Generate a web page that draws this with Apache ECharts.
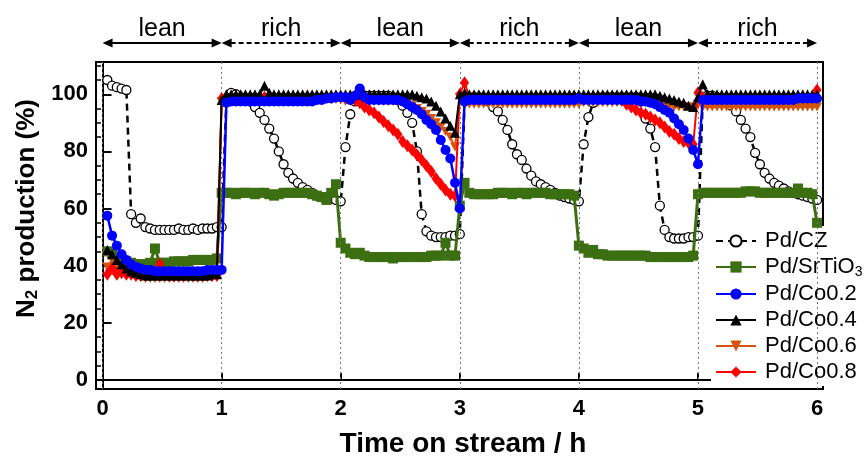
<!DOCTYPE html>
<html>
<head>
<meta charset="utf-8">
<script src="https://cdn.jsdelivr.net/npm/echarts@6/dist/echarts.min.js"></script>
<style>
  html, body { margin: 0; padding: 0; background: #fff; }
  #chart { width: 864px; height: 464px; }
</style>
</head>
<body>
<div id="chart"></div>
<script>
// Sampling times (h), one reading every 0.04 h
const hours = [
  0.04,0.08,0.12,0.16,0.2,0.24,0.28,0.32,0.36,0.4,0.44,0.48,0.52,0.56,0.6,0.64,0.68,0.72,0.76,0.8,0.84,0.88,0.92,0.96,1,
  1.04,1.08,1.12,1.16,1.2,1.24,1.28,1.32,1.36,1.4,1.44,1.48,1.52,1.56,1.6,1.64,1.68,1.72,1.76,1.8,1.84,1.88,1.92,1.96,2,
  2.04,2.08,2.12,2.16,2.2,2.24,2.28,2.32,2.36,2.4,2.44,2.48,2.52,2.56,2.6,2.64,2.68,2.72,2.76,2.8,2.84,2.88,2.92,2.96,3,
  3.04,3.08,3.12,3.16,3.2,3.24,3.28,3.32,3.36,3.4,3.44,3.48,3.52,3.56,3.6,3.64,3.68,3.72,3.76,3.8,3.84,3.88,3.92,3.96,4,
  4.04,4.08,4.12,4.16,4.2,4.24,4.28,4.32,4.36,4.4,4.44,4.48,4.52,4.56,4.6,4.64,4.68,4.72,4.76,4.8,4.84,4.88,4.92,4.96,5,
  5.04,5.08,5.12,5.16,5.2,5.24,5.28,5.32,5.36,5.4,5.44,5.48,5.52,5.56,5.6,5.64,5.68,5.72,5.76,5.8,5.84,5.88,5.92,5.96,6
];

// Lean / rich switching periods
const phaseLabels = ['lean', 'rich', 'lean', 'rich', 'lean', 'rich'];
const phaseStarts = [0, 1, 2, 3, 4, 5];

// Axis ticks
const xTicks = [0, 1, 2, 3, 4, 5, 6];
const yTicks = [0, 20, 40, 60, 80, 100];
const yMinorTicks = [5, 10, 15, 25, 30, 35, 45, 50, 55, 65, 70, 75, 85, 90, 95, 105, 110];

// N2 production (%) per catalyst
const pdCZ = [
  105,103,102.5,102,101.5,58,55,56.5,53.5,53,52.5,52.5,52.5,52.5,52.5,53,52.5,52.5,53,52.5,53,53,53,53.5,53.5,
  98,100.5,100,99,98.5,97.5,95.5,93.5,91,88,84.5,80,75.5,72.5,70.5,69,67.5,66.5,65.5,64.5,64,63.8,63.5,63,62.5,
  81.5,93,97.5,99,99.5,99.5,99.5,99.5,99.5,99.5,99,98,96,93.5,90,80,58,52,50.5,50,50,50,50.5,50.5,51,
  97.5,99,99,99,98.5,97.5,95.5,94,91,87.5,82.5,79,77,74,71.5,69.5,68.5,67.5,66.5,65.5,64.5,64,63.5,63,62.5,
  82.5,92,97,98.5,99,99,99,99,99,99,99,99,97.5,91.5,88,81.5,61,52.5,50,49.5,49.5,49.5,50,50,50.5,
  98,99.5,99.5,99,98.5,97.5,96,94,91,88,85,79.5,75.5,72.5,70.5,69,68,67,66,65.5,65,64.5,64,63.5,63
];
const pdSrTiO3 = [
  45,44.5,43,42,41.5,41,40.5,40.5,40.5,41,46,41,41,41,41.5,41.5,41.5,41.5,42,42,42,42,42,42.5,65.5,
  65.5,65.5,65,65.5,65.5,65.5,65,65.5,65.5,65,64.5,65,65.5,65.5,65.5,65.5,65.5,65.5,65,64.5,64,63,65.5,68.5,48,
  46,44.5,44,44.5,43.5,43,43,43,43,43,42.5,43,43,43,43,43,43,43,43.5,43.5,43.5,48,43.5,43.5,61,
  69,65.5,65,65,65,65,65,65.5,65.5,65.5,65,65.5,65.5,65,65.5,65.5,65.5,65.5,65,65,65,65,65,64.5,47,
  46,44.5,45.5,44,44,43.5,43.5,43.5,43.5,43.5,43.5,43.5,43.5,43.5,43,43,43,43,43,43,43,43,43,43.5,65,
  65.5,65.5,65.5,65.5,65.5,65.5,65.5,65.5,65.5,66,66,66,65.5,65.5,65.5,65.5,65.5,65.5,65.5,65.5,67,65.5,65.5,65,55
];
const pdCo02 = [
  57.5,50.5,47,44,42,40.5,39.5,39,38.5,38.5,38,38,38,38,38,38,38,38,38,38,38,38.5,38.5,38.5,38.5,
  97,97.5,97.5,97.5,97.5,97.5,97.5,97.5,97.5,97.5,97.5,97.5,97.5,97.5,97.5,97.5,97.5,97.5,97.5,98,98,98.5,98.5,99,99,
  99,98,99.5,102,99,98,98,98,98,98,98,98,97.5,96.5,95.5,94.5,93,91,89.5,87.5,84,80.5,77.5,69,60,
  97.5,98,98,98,98,98,98,98,98,98,98,98,98,98,98,98,98,98,98,98,98,98,98,98,98.5,
  98,98,98,98,98,98,98,98,98,98,98,98,97.5,97.5,97,96.5,95.5,94.5,93.5,91.5,89.5,87.5,84.5,80.5,75.5,
  98,98,98,98,98,98,98,98,98,98,98,98,98,98,98,98,98,98,98,98,98.5,98.5,98.5,98.5,98.5
];
const pdCo04 = [
  45.5,44,42,40.5,39,38,37.5,37,36.5,36.5,36.5,36.5,36.5,36.5,36.5,36.5,36.5,36.5,36.5,36.5,36.5,36.5,37,37,98,
  100,100,100,100,100,100,100,100,103,100.5,100,100,100,100,100,100,100,100,100,100,100,100,100,100,100,
  100,100,100,100,100,100,100,100,100,100,100,100,100,100,100,99.5,99,98.5,97.5,96,94,91.5,89,86.5,100,
  100.5,100,100,100,100,100,100,100,100,100,100,100,100,100,100,100,100,100,100,100,100,100,100,100,100,
  100,100,100,100,100,100,100,100,100,100,100,100,100,100,100,100,99.5,99,98.5,98,97.5,97,96,95.5,99,
  103.5,100,100,100,100,100,100,100,100,100,100,100,100,100,100,100,100,100,100,100,100,100,100,100,100
];
const pdCo06 = [
  39.5,42,39,38,37,36.5,36,36,35.5,35.5,35.5,35.5,35.5,35.5,35.5,35.5,35.5,35.5,35.5,35.5,35.5,36,36,36,97.5,
  98.5,98.5,98.5,98.5,98.5,98.5,98.5,98.5,98.5,98.5,98.5,98.5,98.5,98.5,98.5,98.5,98.5,98.5,98.5,98.5,98.5,98.5,98.5,98.5,98.5,
  97.5,97.5,97.5,97.5,97.5,97.5,97.5,97.5,97.5,97.5,97.5,97.5,97.5,97,96,95,94,93,91.5,90,88.5,87,85,81.5,99,
  96.5,96.5,96.5,96.5,96.5,96.5,96.5,96.5,96.5,96.5,96.5,96.5,96.5,96.5,96.5,96.5,96.5,96.5,96.5,96.5,96.5,96.5,96.5,96.5,96.5,
  97,97,97,97,97,97,97,97,97,97,97,97,97,97,97,96.5,96.5,96,96,95.5,95.5,95.5,95.5,95.5,96.5,
  95.5,95.5,95.5,95.5,95.5,95.5,95.5,95.5,95.5,95.5,95.5,95.5,95.5,95.5,95.5,95.5,95.5,95.5,95.5,95.5,95.5,95.5,95.5,95.5,95.5
];
const pdCo08 = [
  37,39,37,37.5,37,37,36.5,36.5,36.5,37,37,40.5,37,36.5,36.5,36.5,36.5,36.5,36.5,36.5,36.5,36.5,36.5,36.5,98.5,
  99,99,99,99,99,99,99,99,99,99,99,99,99,99,99,99,99,99,99,99,99,99,99,99,99,
  99,99,98,97,95.5,94.5,93.5,92,90.5,89,87.5,86,83.5,82,80.5,78.8,77,75,73,70.5,68.5,66.5,65,64.5,100,
  104,99,99,99,99,99,99,99,99,99,99,99,99,99,99,99,99,99,99,99,99,99,99,99,99,
  99,99,99,99,99,99,99,99,98,96.5,95.5,94.5,93.5,93,92,91,90,88.5,87,86,84.5,83.5,83,82.5,100.5,
  99,99,99,99,99,99,99,99,99,99,99,99,99,99,99,99,99,99,99,99,99,99,99,99,101.5
];

const FONT = '"Liberation Sans", Arial, Helvetica, sans-serif';
const X_MIN = -0.055, X_MAX = 6.05;
const Y_MIN = -3.2, Y_MAX = 111.3;

function pairs(vals) {
  return hours.map((t, i) => [t, vals[i]]);
}

function catalyst(name, vals, color, symbol, symbolSize, lineWidth, z, extra) {
  return Object.assign({
    name: name,
    type: 'line',
    xAxisIndex: 0,
    yAxisIndex: 0,
    data: pairs(vals),
    symbol: symbol,
    symbolSize: symbolSize,
    showAllSymbol: true,
    z: z,
    lineStyle: { color: color, width: lineWidth },
    itemStyle: { color: color },
    emphasis: { disabled: true }
  }, extra || {});
}

const downTriangle = 'path://M0,0 L10,0 L5,9 Z';

const chart = echarts.init(document.getElementById('chart'), null, { renderer: 'canvas' });

chart.setOption({
  animation: false,
  backgroundColor: '#fff',
  grid: [
    { left: 96, right: 41, top: 62, bottom: 75, show: true, borderColor: '#000', borderWidth: 2, backgroundColor: 'transparent' },
    { left: 96, right: 41, top: 33, height: 20 }
  ],
  xAxis: [
    {
      type: 'value', gridIndex: 0, min: X_MIN, max: X_MAX,
      axisLine: { show: true, lineStyle: { color: '#000', width: 2 } },
      axisTick: { show: true, inside: true, length: 7, customValues: xTicks, lineStyle: { color: '#000', width: 2 } },
      axisLabel: { customValues: xTicks, fontFamily: FONT, fontSize: 22, fontWeight: 'bold', color: '#000', margin: 9 },
      splitLine: { show: false },
      name: 'Time on stream / h', nameLocation: 'middle', nameGap: 41,
      nameTextStyle: { fontFamily: FONT, fontSize: 28, fontWeight: 'bold', color: '#000', padding: [0, 0, 0, 7] }
    },
    { type: 'value', gridIndex: 1, min: X_MIN, max: X_MAX, show: false }
  ],
  yAxis: [
    {
      type: 'value', gridIndex: 0, min: Y_MIN, max: Y_MAX,
      axisLine: { show: true, lineStyle: { color: '#000', width: 2 } },
      axisTick: { show: true, inside: true, length: 9, customValues: yTicks, lineStyle: { color: '#000', width: 2 } },
      axisLabel: { customValues: yTicks, fontFamily: FONT, fontSize: 22, fontWeight: 'bold', color: '#000', margin: 8 },
      splitLine: { show: false },
      name: 'N{sub|2} production (%)', nameLocation: 'middle', nameGap: 55, nameRotate: 90,
      nameTextStyle: {
        fontFamily: FONT, fontSize: 26, fontWeight: 'bold', color: '#000', padding: [0, 0, 0, 34],
        rich: { sub: { fontFamily: FONT, fontSize: 17, fontWeight: 'bold', color: '#000', padding: [10, 0, 0, 0] } }
      }
    },
    {
      type: 'value', gridIndex: 0, min: Y_MIN, max: Y_MAX, position: 'left',
      axisLine: { show: false },
      axisLabel: { show: false },
      splitLine: { show: false },
      axisTick: { show: true, inside: true, length: 5, customValues: yMinorTicks, lineStyle: { color: '#000', width: 1.5 } }
    },
    { type: 'value', gridIndex: 1, min: 0, max: 1, show: false }
  ],
  legend: {
    orient: 'vertical', left: 711, top: 226,
    itemWidth: 40, itemHeight: 14, itemGap: 4,
    backgroundColor: '#fff', padding: [4, 0, 3, 4],
    selectedMode: false,
    textStyle: {
      fontFamily: FONT, fontSize: 22, color: '#000', padding: [0, 0, 0, 4],
      rich: { sub: { fontFamily: FONT, fontSize: 14, color: '#000', padding: [10, 0, 0, 0] } }
    },
    formatter: name => name.replace('SrTiO3', 'SrTiO{sub|3}'),
    data: ['Pd/CZ', 'Pd/SrTiO3', 'Pd/Co0.2', 'Pd/Co0.4', 'Pd/Co0.6', 'Pd/Co0.8']
  },
  series: [
    {
      // dotted guides at every hour
      type: 'line', xAxisIndex: 0, yAxisIndex: 0, data: [], z: 1, silent: true,
      markLine: {
        silent: true, symbol: 'none', label: { show: false },
        lineStyle: { type: [2, 3], color: '#777', width: 1 },
        data: xTicks.map(v => ({ xAxis: v }))
      }
    },
    catalyst('Pd/CZ', pdCZ, '#000', 'circle', 9, 2.5, 3, {
      lineStyle: { color: '#000', width: 2.5, type: [7, 5] },
      itemStyle: { color: '#fff', borderColor: '#000', borderWidth: 1.3 }
    }),
    catalyst('Pd/SrTiO3', pdSrTiO3, '#3c6e12', 'rect', 10, 3, 4),
    catalyst('Pd/Co0.6', pdCo06, '#d4530f', downTriangle, [10, 9], 2, 5),
    catalyst('Pd/Co0.8', pdCo08, '#ff0000', 'diamond', [9, 13], 2, 6),
    catalyst('Pd/Co0.4', pdCo04, '#000', 'triangle', 10, 2, 7),
    catalyst('Pd/Co0.2', pdCo02, '#0000ff', 'circle', 10, 2.5, 8),
    {
      // lean / rich double arrows above the plot
      type: 'custom', xAxisIndex: 1, yAxisIndex: 2, silent: true, clip: false,
      data: phaseStarts.map((s, i) => [s, s + 1, phaseLabels[i] === 'rich' ? 1 : 0]),
      renderItem: function (params, api) {
        const a = api.coord([api.value(0), 0.5]);
        const b = api.coord([api.value(1), 0.5]);
        const y = a[1], head = 10, half = 4.5;
        const dashed = api.value(2) === 1;
        return {
          type: 'group',
          children: [
            { type: 'line', shape: { x1: a[0] + head - 1, y1: y, x2: b[0] - head + 1, y2: y },
              style: { stroke: '#000', lineWidth: 2, lineDash: dashed ? [5, 3] : null } },
            { type: 'polygon', shape: { points: [[a[0], y], [a[0] + head, y - half], [a[0] + head, y + half]] },
              style: { fill: '#000' } },
            { type: 'polygon', shape: { points: [[b[0], y], [b[0] - head, y - half], [b[0] - head, y + half]] },
              style: { fill: '#000' } },
            { type: 'text', x: (a[0] + b[0]) / 2, y: y - 14,
              style: { text: phaseLabels[params.dataIndex], fontFamily: FONT, fontSize: 25, fill: '#000',
                       align: 'center', verticalAlign: 'middle' } }
          ]
        };
      }
    }
  ]
});
</script>
</body>
</html>
